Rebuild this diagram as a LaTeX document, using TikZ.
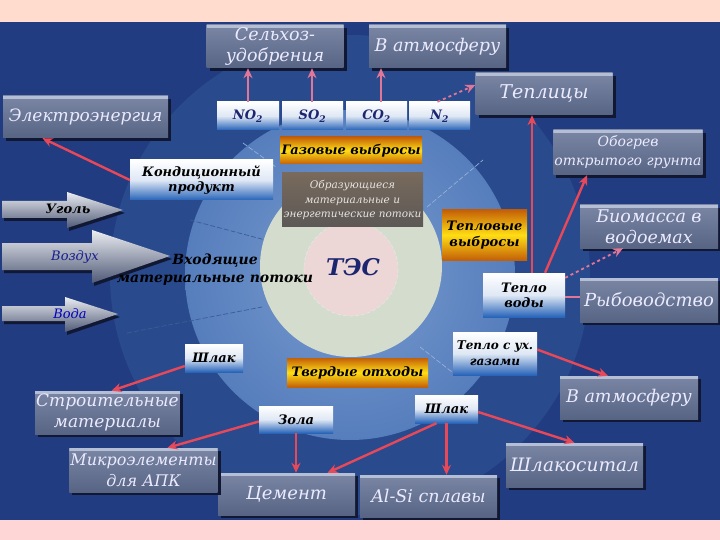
\documentclass[tikz,border=0pt]{standalone}
\usepackage{fontspec}
\setmainfont{DejaVu Serif}
\usetikzlibrary{arrows.meta,shadows,calc}
\definecolor{bgBlue}{RGB}{34,60,130}
\definecolor{outerRing}{RGB}{42,74,142}
\definecolor{ringOut}{RGB}{86,126,188}
\definecolor{ringIn}{RGB}{122,156,208}
\definecolor{coreLight}{RGB}{212,220,205}
\definecolor{corePink}{RGB}{236,214,214}
\definecolor{bandTop}{RGB}{255,220,206}
\definecolor{bandBot}{RGB}{255,214,214}
\definecolor{grayT}{RGB}{122,134,164}
\definecolor{grayB}{RGB}{88,100,132}
\definecolor{grayHi}{RGB}{180,190,212}
\definecolor{shadowC}{RGB}{16,24,52}
\definecolor{boxBlue}{RGB}{40,100,185}
\definecolor{goldEdge}{RGB}{196,96,8}
\definecolor{goldMid}{RGB}{255,222,20}
\definecolor{brownT}{RGB}{120,106,92}
\definecolor{brownB}{RGB}{92,88,86}
\definecolor{flowRed}{RGB}{232,72,88}
\definecolor{flowPink}{RGB}{226,118,150}
\definecolor{labNavy}{RGB}{28,37,112}
\definecolor{sepC}{RGB}{60,92,150}

\begin{document}
\begin{tikzpicture}[
    x=1pt, y=-1pt,
    >={Stealth[length=10pt,width=9pt]},
    graybox/.style={
        top color=grayT, bottom color=grayB,
        minimum width=137pt, minimum height=43pt,
        inner sep=1pt, align=center,
        text=white!92!blue,
        font=\fontsize{17.5}{21}\selectfont\itshape,
        drop shadow={shadow xshift=3pt, shadow yshift=-3pt, fill=shadowC, opacity=1},
        path picture={\fill[grayHi] (path picture bounding box.north west) rectangle ([yshift=-3pt]path picture bounding box.north east);}
    },
    bluebox/.style={
        shading=axis, top color=white, bottom color=boxBlue, middle color=white!85!boxBlue,
        minimum height=28pt, inner sep=1pt, align=center,
        text=black,
        font=\fontsize{13}{15}\selectfont\bfseries\itshape
    },
    goldbox/.style={
        shading=axis, top color=goldEdge, bottom color=goldEdge, middle color=goldMid,
        minimum height=28pt, inner sep=1pt, align=center,
        text=black,
        font=\fontsize{13}{15.5}\selectfont\bfseries\itshape
    },
    blockarrow/.style={
        top color=white!85!grayT, bottom color=grayB!90!black,
        drop shadow={shadow xshift=2pt, shadow yshift=-3pt, fill=shadowC, opacity=1}
    },
    redarrow/.style={->, draw=flowRed, line width=2.4pt},
    pinkarrow/.style={->, draw=flowPink, line width=1.8pt},
    sepline/.style={draw=sepC, line width=0.7pt, dash pattern=on 5pt off 2pt}
]
% background
\useasboundingbox (0,0) rectangle (720,540);
\fill[bandTop] (0,0) rectangle (720,22);
\fill[bgBlue] (0,22) rectangle (720,520);
\fill[bandBot] (0,520) rectangle (720,540);

% rings
\fill[outerRing] (350,275) circle[radius=240];
\shade[inner color=ringIn, outer color=ringOut] (350,275) circle[radius=165];
\draw[sepline] (190,220) -- (303,250);
\draw[sepline] (127,333) -- (262,307);
\draw[sepline, draw=ringIn!80!white] (243,143) -- (276,167);
\draw[sepline, draw=ringIn!80!white] (427,207) -- (483,160);
\draw[sepline, draw=ringIn!80!white] (420,347) -- (452,372);
\fill[coreLight] (351,266) circle[radius=91];
\fill[corePink] (351,269) circle[radius=47];
\draw[white!80!gray, line width=0.8pt, dash pattern=on 4pt off 2pt] (351,269) circle[radius=47];

% centre label
\node[text=labNavy, font=\fontsize{23}{26}\selectfont\bfseries\itshape] (tes) at (353,267) {ТЭС};

% output boxes
\node[graybox] (agro) at (275,46.5) {Сельхоз-\\удобрения};
\node[graybox] (atmTop) at (437.5,46.5) {В атмосферу};
\node[graybox, minimum height=42pt, font=\fontsize{19}{21}\selectfont\itshape] (green) at (544,94) {Теплицы};
\node[graybox, minimum width=165pt, minimum height=42pt, font=\fontsize{17}{21}\selectfont\itshape] (power) at (85.5,117) {Электроэнергия};
\node[graybox, minimum height=45pt, font=\fontsize{14}{19}\selectfont\itshape] (soil) at (628,152.5) {Обогрев\\открытого грунта};
\node[graybox, minimum width=138pt] (biomass) at (649,226.5) {Биомасса в\\водоемах};
\node[graybox, minimum width=138pt, minimum height=44pt, font=\fontsize{18}{21}\selectfont\itshape] (fish) at (649,300) {Рыбоводство};
\node[graybox, minimum width=138pt] (atmRight) at (629,397.5) {В атмосферу};
\node[graybox, minimum height=44pt, font=\fontsize{18.5}{21}\selectfont\itshape] (slagglass) at (574.5,465) {Шлакоситал};
\node[graybox, minimum height=42pt] (alsi) at (428.5,496) {Al-Si сплавы};
\node[graybox, minimum height=42pt, font=\fontsize{18}{21}\selectfont\itshape] (cement) at (286.5,494) {Цемент};
\node[graybox, minimum height=44pt, font=\fontsize{16}{21}\selectfont\itshape] (micro) at (143.5,470) {Микроэлементы\\для АПК};
\node[graybox, font=\fontsize{17}{21}\selectfont\itshape] (build) at (107.5,412.5) {Строительные\\материалы};

% intermediate boxes
\node[bluebox, minimum width=62pt, text=labNavy] (no2) at (248,116) {NO\textsubscript{2}};
\node[bluebox, minimum width=61pt, text=labNavy] (so2) at (312.5,116) {SO\textsubscript{2}};
\node[bluebox, minimum width=61pt, text=labNavy] (co2) at (376.5,116) {CO\textsubscript{2}};
\node[bluebox, minimum width=61pt, text=labNavy] (n2) at (439.5,116) {N\textsubscript{2}};
\node[bluebox, minimum width=143pt, minimum height=40pt] (cond) at (201.5,180) {Кондиционный\\продукт};
\node[bluebox, minimum width=82pt, minimum height=44pt] (hwater) at (524,295) {Тепло\\воды};
\node[bluebox, minimum width=84pt, minimum height=43pt, font=\fontsize{12}{16}\selectfont\bfseries\itshape] (hgas) at (495,353.5) {Тепло с ух.\\газами};
\node[bluebox, minimum width=58pt] (slagL) at (214,358) {Шлак};
\node[bluebox, minimum width=74pt, minimum height=27pt] (ash) at (296,419.5) {Зола};
\node[bluebox, minimum width=63pt] (slagR) at (446.5,409) {Шлак};

\node[goldbox, minimum width=142pt, minimum height=27pt] (gas) at (351,150.5) {Газовые выбросы};
\node[goldbox, minimum width=85pt, minimum height=50pt] (heat) at (484.5,235) {Тепловые\\выбросы};
\node[goldbox, minimum width=141pt, minimum height=29pt] (solid) at (357.5,372.5) {Твердые отходы};

\node[top color=brownT, bottom color=brownB, minimum width=141pt, minimum height=54pt,
      inner sep=1pt, align=center, text=white!82!brownT,
      font=\fontsize{10.5}{14.5}\selectfont\itshape] (flows) at (352.5,200)
      {Образующиеся\\материальные и\\энергетические потоки};

% incoming flows
\path[blockarrow] (2,201) -- (67,201) -- (67,192) -- (123,210) -- (67,228) -- (67,218) -- (2,218) -- cycle;
\path[blockarrow] (2,243) -- (92,243) -- (92,230) -- (170,256) -- (92,283) -- (92,270) -- (2,270) -- cycle;
\path[blockarrow] (2,306) -- (65,306) -- (65,297) -- (118,314) -- (65,332) -- (65,321) -- (2,321) -- cycle;
\node[font=\fontsize{13}{15}\selectfont\bfseries\itshape] (coal) at (68,209) {Уголь};
\node[text=labNavy!80!blue, font=\fontsize{13}{15}\selectfont\itshape] (air) at (75,257) {Воздух};
\node[text=blue!75!black, font=\fontsize{13}{15}\selectfont\itshape] (water) at (70,314) {Вода};
\node[align=center, font=\fontsize{14}{18}\selectfont\bfseries\itshape] (incoming) at (215,270) {Входящие\\материальные потоки};

% connectors
\draw[pinkarrow] (no2.north) -- (no2.north |- agro.south);
\draw[pinkarrow] ([xshift=64pt]no2.north) -- ([xshift=64pt]no2.north |- agro.south);
\draw[pinkarrow] ([xshift=4.5pt]co2.north) -- ([xshift=4.5pt]co2.north |- atmTop.south);
\draw[pinkarrow, dashed] ([xshift=-2pt]n2.north) -- ([yshift=9pt]green.west);
\draw[redarrow] (cond.west) -- ([xshift=-43pt]power.south);
\draw[redarrow] ([xshift=8pt]hwater.north) -- ([xshift=8pt]hwater.north |- green.south);
\draw[redarrow] ([xshift=21pt]hwater.north) -- ([xshift=-41pt]soil.south);
\draw[pinkarrow, dashed] ([yshift=-5pt]hwater.north east) -- ([xshift=-26pt]biomass.south);
\draw[flowPink, line width=1.8pt] ([yshift=-2pt]hwater.east) -- ([yshift=-2pt]hwater.east -| fish.west);
\draw[redarrow] ([yshift=4pt]hgas.east) -- ([xshift=-21pt]atmRight.north);
\draw[redarrow] ([yshift=-3pt]slagR.east) -- (slagglass.north);
\draw[redarrow] (slagR.south) -- (slagR.south |- alsi.north);
\draw[redarrow] ([xshift=-10pt]slagR.south) -- ([xshift=41pt]cement.north);
\draw[redarrow] (ash.south) -- (ash.south |- cement.north);
\draw[redarrow] ([yshift=-2pt]ash.west) -- ([xshift=24pt]micro.north);
\draw[redarrow] ([yshift=-8pt]slagL.west) -- ([xshift=4pt]build.north);
\end{tikzpicture}
\end{document}
